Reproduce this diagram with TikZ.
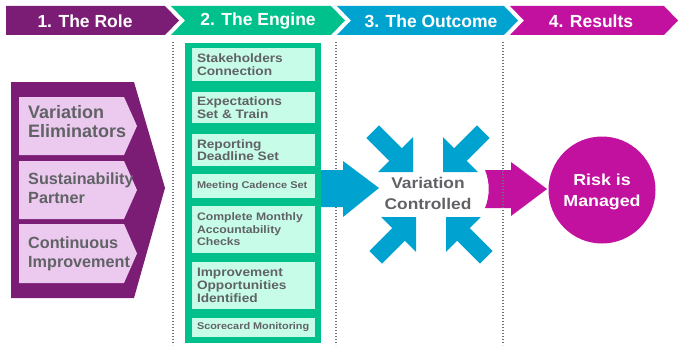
\documentclass[tikz,border=0pt]{standalone}
\usepackage{fontspec}
\setmainfont{Liberation Sans}
\newfontfamily\widefont[FakeStretch=1.12]{Liberation Sans}
\usepackage{tikz}

\definecolor{rolepurple}{HTML}{7B1C75}
\definecolor{rolepink}{HTML}{ECCAF0}
\definecolor{enginegreen}{HTML}{00C18B}
\definecolor{enginemint}{HTML}{C6FCE8}
\definecolor{outblue}{HTML}{00A2D0}
\definecolor{resmagenta}{HTML}{C2119F}
\definecolor{textgray}{HTML}{616266}
\definecolor{dotgray}{HTML}{707174}

\tikzset{
	headtext/.style={text=white, inner sep=0, font=\fontsize{17.5}{21}\selectfont\bfseries},
	roletext/.style={text=textgray, inner sep=0, anchor=west, align=left},
	stepbox/.style={fill=enginemint, inner sep=0, minimum width=123pt},
	steptext/.style={text=textgray, inner sep=0, anchor=west, align=left},
	dotline/.style={draw=dotgray, line width=1.4pt, dash pattern=on 1.4pt off 1.6pt},
}

\begin{document}
\begin{tikzpicture}[x=1pt, y=-1pt]
	\useasboundingbox (0,0) rectangle (679,345);
	
	% header chevrons
	\fill[rolepurple] (6,6) -- (165,6) -- (179,20.5) -- (165,35) -- (6,35) -- cycle;
	\fill[enginegreen] (171,6) -- (331,6) -- (345,20.5) -- (331,35) -- (171,35) -- (185,20.5) -- cycle;
	\fill[outblue] (337,6) -- (504,6) -- (518,20.5) -- (504,35) -- (337,35) -- (351,20.5) -- cycle;
	\fill[resmagenta] (510,6) -- (664,6) -- (678,20.5) -- (664,35) -- (510,35) -- (524,20.5) -- cycle;
	
	\node[headtext] (h1) at (85,21) {1. The Role};
	\node[headtext] (h2) at (258,21) {2. The Engine};
	\node[headtext] (h3) at (431,21) {3. The Outcome};
	\node[headtext] (h4) at (591,21) {4. Results};
	
	% dotted separators
	\draw[dotline] (173,42) -- (173,345);
	\draw[dotline] (336,42) -- (336,345);
	
	% the role
	\fill[rolepurple] (11,82) -- (134,82) -- (165,188) -- (134,298) -- (11,298) -- cycle;
	\fill[rolepink] (19,97) -- (124,97) -- (137,126) -- (124,155) -- (19,155) -- cycle;
	\fill[rolepink] (19,161) -- (124,161) -- (137,190) -- (124,219) -- (19,219) -- cycle;
	\fill[rolepink] (19,224) -- (124,224) -- (137,253.5) -- (124,283) -- (19,283) -- cycle;
	
	\node[roletext, font=\fontsize{18}{19}\selectfont\bfseries] (elim) at (28,121.5) {Variation\\Eliminators};
	\node[roletext, font=\fontsize{16.2}{19}\selectfont\bfseries] (partner) at (28,188) {Sustainability\\Partner};
	\node[roletext, font=\fontsize{16.2}{19}\selectfont\bfseries] (improve) at (28,253.5) {Continuous\\Improvement};
	
	% the engine
	\fill[enginegreen] (185,43) rectangle (321,343);
	
	\node[stepbox, minimum height=33pt] (stake) at (253.5,64.5) {};
	\node[stepbox, minimum height=31pt] (expect) at (253.5,107.5) {};
	\node[stepbox, minimum height=32pt] (report) at (253.5,150) {};
	\node[stepbox, minimum height=24pt] (meet) at (253.5,186) {};
	\node[stepbox, minimum height=47pt] (checks) at (253.5,229.5) {};
	\node[stepbox, minimum height=47pt] (oppor) at (253.5,285.5) {};
	\node[stepbox, minimum height=19pt] (score) at (253.5,327.5) {};
	
	\node[steptext, font=\widefont\fontsize{12.2}{12.5}\selectfont\bfseries] (stakelbl) at ([xshift=5pt]stake.west) {Stakeholders\\Connection};
	\node[steptext, font=\widefont\fontsize{12.2}{12.5}\selectfont\bfseries] (expectlbl) at ([xshift=5pt]expect.west) {Expectations\\Set \& Train};
	\node[steptext, font=\widefont\fontsize{12.2}{12.5}\selectfont\bfseries] (reportlbl) at ([xshift=5pt]report.west) {Reporting\\Deadline Set};
	\node[steptext, font=\widefont\fontsize{9.8}{12}\selectfont\bfseries] (meetlbl) at ([xshift=5pt]meet.west) {Meeting Cadence Set};
	\node[steptext, font=\widefont\fontsize{10.9}{12.5}\selectfont\bfseries] (checkslbl) at ([xshift=5pt]checks.west) {Complete Monthly\\Accountability\\Checks};
	\node[steptext, font=\widefont\fontsize{12.2}{13}\selectfont\bfseries] (opporlbl) at ([xshift=5pt]oppor.west) {Improvement\\Opportunities\\Identified};
	\node[steptext, font=\widefont\fontsize{9.7}{12}\selectfont\bfseries] (scorelbl) at ([xshift=5pt]score.west) {Scorecard Monitoring};
	
	% the outcome
	\fill[outblue] (321,170) -- (343,170) -- (343,161) -- (379,188) -- (343,217) -- (343,207) -- (321,207) -- cycle;
	
	\begin{scope}[shift={(413,172)}, rotate=-45]
		\fill[outblue] (0,0) -- (-24.7,24.7) -- (-24.7,9) -- (-57,9) -- (-57,-9) -- (-24.7,-9) -- (-24.7,-24.7) -- cycle;
	\end{scope}
	\begin{scope}[shift={(443,172)}, rotate=-135]
		\fill[outblue] (0,0) -- (-24.7,24.7) -- (-24.7,9) -- (-57,9) -- (-57,-9) -- (-24.7,-9) -- (-24.7,-24.7) -- cycle;
	\end{scope}
	\begin{scope}[shift={(416,217)}, rotate=45]
		\fill[outblue] (0,0) -- (-24.7,24.7) -- (-24.7,9) -- (-57,9) -- (-57,-9) -- (-24.7,-9) -- (-24.7,-24.7) -- cycle;
	\end{scope}
	\begin{scope}[shift={(446,217)}, rotate=135]
		\fill[outblue] (0,0) -- (-24.7,24.7) -- (-24.7,9) -- (-57,9) -- (-57,-9) -- (-24.7,-9) -- (-24.7,-24.7) -- cycle;
	\end{scope}
	
	\node[text=textgray, inner sep=0, align=center, font=\widefont\fontsize{15.5}{21}\selectfont\bfseries] (varctrl) at (428,193) {Variation\\Controlled};
	
	% the results
	\fill[resmagenta] (485,170) -- (511,170) -- (511,162) -- (547,189) -- (511,216) -- (511,208) -- (485,208) .. controls (490,196) and (490,182) .. (485,170);
	\draw[dotline] (503,42) -- (503,345);
	
	\node[circle, fill=resmagenta, minimum size=107pt, inner sep=0] (risk) at (602,190) {};
	\node[text=white, inner sep=0, align=center, font=\widefont\fontsize{15.9}{21}\selectfont\bfseries] (risklbl) at ([yshift=-2pt]risk.center) {Risk is\\Managed};
	
\end{tikzpicture}
\end{document}
